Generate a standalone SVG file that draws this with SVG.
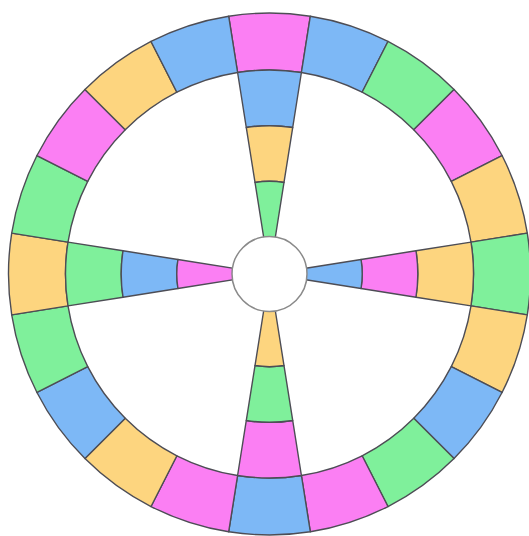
<svg xmlns="http://www.w3.org/2000/svg" width="529" height="536" viewBox="0 0 529 536">
<style>
path{stroke:#4d4d55;stroke-width:1.4;stroke-linejoin:round}
.m{fill:#fb7ff3}.b{fill:#7db8f6}.g{fill:#7ff09b}.y{fill:#fdd57f}
.hub{fill:#fff;stroke:#8a8a8a;stroke-width:1.5}
</style>
<rect width="529" height="536" fill="#fff"/>
<g id="ring">
<path class="m" d="M228.67 16.21A261 261 0 0 1 310.33 16.21L301.41 72.51A204 204 0 0 0 237.59 72.51Z"/>
<path class="b" d="M310.33 16.21A261 261 0 0 1 387.99 41.45L362.11 92.23A204 204 0 0 0 301.41 72.51Z"/>
<path class="g" d="M387.99 41.45A261 261 0 0 1 454.05 89.45L413.75 129.75A204 204 0 0 0 362.11 92.23Z"/>
<path class="m" d="M454.05 89.45A261 261 0 0 1 502.05 155.51L451.27 181.39A204 204 0 0 0 413.75 129.75Z"/>
<path class="y" d="M502.05 155.51A261 261 0 0 1 527.29 233.17L470.99 242.09A204 204 0 0 0 451.27 181.39Z"/>
<path class="g" d="M527.29 233.17A261 261 0 0 1 527.29 314.83L470.99 305.91A204 204 0 0 0 470.99 242.09Z"/>
<path class="y" d="M527.29 314.83A261 261 0 0 1 502.05 392.49L451.27 366.61A204 204 0 0 0 470.99 305.91Z"/>
<path class="b" d="M502.05 392.49A261 261 0 0 1 454.05 458.55L413.75 418.25A204 204 0 0 0 451.27 366.61Z"/>
<path class="g" d="M454.05 458.55A261 261 0 0 1 387.99 506.55L362.11 455.77A204 204 0 0 0 413.75 418.25Z"/>
<path class="m" d="M387.99 506.55A261 261 0 0 1 310.33 531.79L301.41 475.49A204 204 0 0 0 362.11 455.77Z"/>
<path class="b" d="M310.33 531.79A261 261 0 0 1 228.67 531.79L237.59 475.49A204 204 0 0 0 301.41 475.49Z"/>
<path class="m" d="M228.67 531.79A261 261 0 0 1 151.01 506.55L176.89 455.77A204 204 0 0 0 237.59 475.49Z"/>
<path class="y" d="M151.01 506.55A261 261 0 0 1 84.95 458.55L125.25 418.25A204 204 0 0 0 176.89 455.77Z"/>
<path class="b" d="M84.95 458.55A261 261 0 0 1 36.95 392.49L87.73 366.61A204 204 0 0 0 125.25 418.25Z"/>
<path class="g" d="M36.95 392.49A261 261 0 0 1 11.71 314.83L68.01 305.91A204 204 0 0 0 87.73 366.61Z"/>
<path class="y" d="M11.71 314.83A261 261 0 0 1 11.71 233.17L68.01 242.09A204 204 0 0 0 68.01 305.91Z"/>
<path class="g" d="M11.71 233.17A261 261 0 0 1 36.95 155.51L87.73 181.39A204 204 0 0 0 68.01 242.09Z"/>
<path class="m" d="M36.95 155.51A261 261 0 0 1 84.95 89.45L125.25 129.75A204 204 0 0 0 87.73 181.39Z"/>
<path class="y" d="M84.95 89.45A261 261 0 0 1 151.01 41.45L176.89 92.23A204 204 0 0 0 125.25 129.75Z"/>
<path class="b" d="M151.01 41.45A261 261 0 0 1 228.67 16.21L237.59 72.51A204 204 0 0 0 176.89 92.23Z"/>
</g>
<g id="spoke-top">
<path class="b" d="M237.59 72.51A204 204 0 0 1 301.41 72.51L292.70 127.53A148.3 148.3 0 0 0 246.30 127.53Z"/>
<path class="y" d="M246.30 127.53A148.3 148.3 0 0 1 292.70 127.53L284.00 182.44A92.7 92.7 0 0 0 255.00 182.44Z"/>
<path class="g" d="M255.00 182.44A92.7 92.7 0 0 1 284.00 182.44L269.5 274Z"/>
</g>
<g id="spoke-right">
<path class="y" d="M470.99 242.09A204 204 0 0 1 470.99 305.91L415.97 297.20A148.3 148.3 0 0 0 415.97 250.80Z"/>
<path class="m" d="M415.97 250.80A148.3 148.3 0 0 1 415.97 297.20L361.06 288.50A92.7 92.7 0 0 0 361.06 259.50Z"/>
<path class="b" d="M361.06 259.50A92.7 92.7 0 0 1 361.06 288.50L269.5 274Z"/>
</g>
<g id="spoke-bottom">
<path class="m" d="M301.41 475.49A204 204 0 0 1 237.59 475.49L246.30 420.47A148.3 148.3 0 0 0 292.70 420.47Z"/>
<path class="g" d="M292.70 420.47A148.3 148.3 0 0 1 246.30 420.47L255.00 365.56A92.7 92.7 0 0 0 284.00 365.56Z"/>
<path class="y" d="M284.00 365.56A92.7 92.7 0 0 1 255.00 365.56L269.5 274Z"/>
</g>
<g id="spoke-left">
<path class="g" d="M68.01 305.91A204 204 0 0 1 68.01 242.09L123.03 250.80A148.3 148.3 0 0 0 123.03 297.20Z"/>
<path class="b" d="M123.03 297.20A148.3 148.3 0 0 1 123.03 250.80L177.94 259.50A92.7 92.7 0 0 0 177.94 288.50Z"/>
<path class="m" d="M177.94 288.50A92.7 92.7 0 0 1 177.94 259.50L269.5 274Z"/>
</g>
<g id="hub">
<circle class="hub" cx="269.5" cy="274" r="37.5"/>
</g>
</svg>
